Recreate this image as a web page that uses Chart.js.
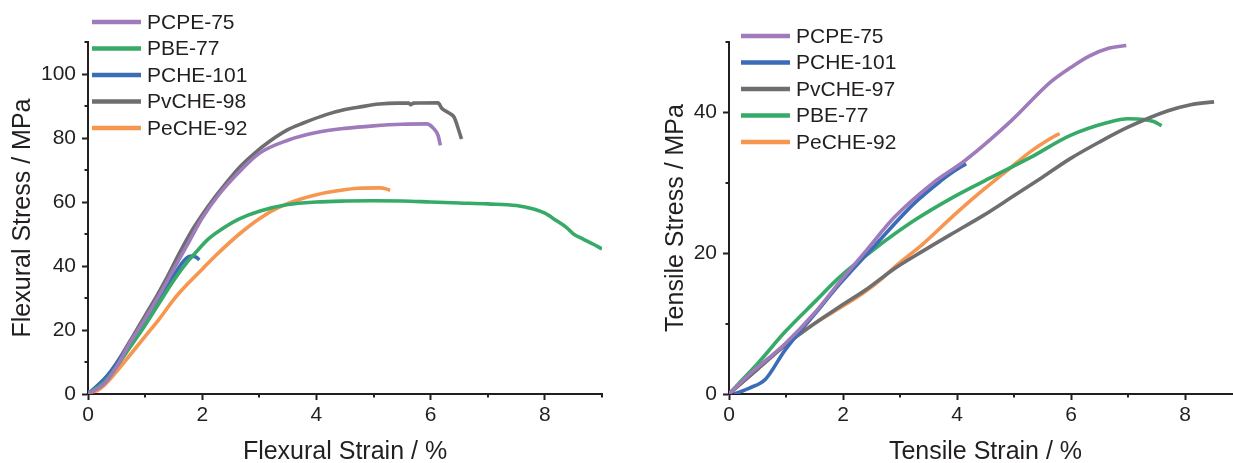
<!DOCTYPE html>
<html>
<head>
<meta charset="utf-8">
<script src="https://cdn.jsdelivr.net/npm/chart.js@4.4.1/dist/chart.umd.min.js"></script>
<style>
  html, body { margin: 0; padding: 0; background: #fff; }
  body { width: 1233px; height: 463px; overflow: hidden; position: relative; }
  canvas { position: absolute; top: 0; }
  #flexural { left: 0; }
  #tensile { left: 620px; }
</style>
</head>
<body>
<canvas id="flexural" width="620" height="480"></canvas>
<canvas id="tensile" width="660" height="480"></canvas>
<script>
// ---- flexural test: [strain %, stress MPa]
const flexPCPE75 = [[0,0],[0.3,3.5],[0.5,8.5],[0.75,16.5],[1.0,23.5],[1.25,31],[1.5,39],[1.75,47],[2.0,55],[2.3,62.5],[2.6,68.5],[3.0,75.2],[3.5,79.3],[4.0,81.7],[4.5,83],[5.0,83.8],[5.5,84.3],[5.93,84.4],[6.05,83],[6.13,80.8],[6.17,77.7]];
const flexPBE77 = [[0,0],[0.3,4],[0.5,8.5],[0.75,15],[1.0,21.5],[1.25,28.5],[1.5,35.5],[1.75,41.5],[1.9,44.5],[2.1,48.3],[2.3,51],[2.65,54.7],[3.0,57.1],[3.5,59.2],[4.0,60],[4.5,60.3],[5.0,60.4],[5.5,60.3],[6.0,60],[6.5,59.7],[7.0,59.4],[7.5,58.9],[7.8,57.8],[8.0,56.5],[8.2,54.2],[8.38,52],[8.5,50],[8.67,48.4],[8.85,46.8],[9.0,45.3]];
const flexPCHE101 = [[0,0],[0.3,5],[0.5,9.5],[0.75,16],[1.0,23],[1.25,30],[1.5,37],[1.65,41],[1.75,42.8],[1.83,43.1],[1.9,42.7],[1.95,41.9]];
const flexPvCHE98 = [[0,0],[0.2,2.5],[0.4,7],[0.6,12.5],[0.8,18.5],[1.0,24.5],[1.2,30.5],[1.4,37],[1.6,44],[1.8,50.5],[2.0,56],[2.2,61],[2.4,65.5],[2.65,70.8],[2.9,75],[3.2,79.2],[3.5,82.6],[3.76,84.6],[4.17,87.3],[4.5,88.9],[4.73,89.6],[5.1,90.6],[5.42,90.9],[5.62,90.9],[5.65,90.4],[5.7,90.9],[6.13,91],[6.19,89.4],[6.34,87.6],[6.41,86.5],[6.49,82.5],[6.54,79.7]];
const flexPeCHE92 = [[0,0.5],[0.15,1],[0.3,3],[0.5,7],[0.75,12.5],[1.0,18],[1.25,23.5],[1.5,29.5],[1.75,34.5],[2.0,39],[2.25,43.5],[2.65,50],[3.0,54.8],[3.34,58.3],[3.7,60.8],[4.0,62.3],[4.4,63.6],[4.73,64.3],[5.11,64.4],[5.22,64.1],[5.29,63.6]];

// ---- tensile test: [strain %, stress MPa]
const tensPCPE75 = [[0,0],[0.36,2.8],[0.98,7.1],[1.5,11.5],[1.94,15.9],[2.4,20.3],[2.9,25.1],[3.58,30],[4.13,33.1],[4.95,38.8],[5.64,44.3],[6.0,46.4],[6.32,48],[6.66,49.1],[6.97,49.5]];
const tensPCHE101 = [[0.09,0],[0.36,0.85],[0.64,2.1],[0.98,6.2],[1.53,11.6],[1.94,15.6],[2.55,21],[3.24,27],[3.72,30.3],[3.92,31.5],[4.16,32.7]];
const tensPvCHE97 = [[0,0],[0.5,3.5],[1.0,7],[1.5,10],[1.94,12.4],[2.4,14.8],[2.9,17.8],[3.4,20.3],[3.92,22.8],[4.45,25.3],[4.95,27.9],[5.5,30.8],[5.98,33.4],[6.5,35.8],[7.0,37.9],[7.69,40.2],[8.1,41.1],[8.51,41.5]];
const tensPBE77 = [[0,0],[0.16,1.4],[0.5,4.3],[0.98,8.8],[1.53,13.3],[1.94,16.6],[2.55,20.6],[3.24,24.6],[3.92,27.9],[4.61,30.8],[5.29,33.6],[5.98,36.7],[6.66,38.6],[7.0,39.1],[7.28,39],[7.45,38.7],[7.59,38.1]];
const tensPeCHE92 = [[0,0],[0.5,3.6],[1.0,7.1],[1.5,10],[2.0,12.5],[2.35,14.3],[2.7,16.5],[2.9,18],[3.4,21.3],[3.92,25.2],[4.4,28.6],[4.95,32.2],[5.3,34.5],[5.64,36.3],[5.8,37]];

// tick values
const flexMinorX = [1, 3, 5, 7, 9];
const flexMinorY = [10, 30, 50, 70, 90, 110];
const tensMinorX = [1, 3, 5, 7, 9];
const tensMinorY = [10, 30, 50];

const INK = '#231f20';
const FONT = '"Liberation Sans", Arial, sans-serif';
const colors = {
  purple: '#9f7bbb',
  green: '#36aa67',
  blue: '#3b6cb7',
  gray: '#6e6e71',
  orange: '#f6964f'
};

Chart.defaults.font.family = FONT;
Chart.defaults.color = INK;

function series(label, pts, color) {
  return {
    label: label,
    data: pts.map(p => ({ x: p[0], y: p[1] })),
    borderColor: color,
    backgroundColor: color,
    borderWidth: 3.6,
    pointRadius: 0,
    cubicInterpolationMode: 'monotone',
    fill: false
  };
}

const minorTicks = {
  id: 'minorTicks',
  afterDraw(chart, args, opts) {
    const ctx = chart.ctx;
    const xs = chart.scales.x, ys = chart.scales.y;
    ctx.save();
    ctx.strokeStyle = INK;
    ctx.lineWidth = 2;
    opts.x.forEach(v => {
      const px = Math.round(xs.getPixelForValue(v));
      ctx.beginPath(); ctx.moveTo(px, xs.top); ctx.lineTo(px, xs.top + 3.5); ctx.stroke();
    });
    opts.y.forEach(v => {
      const py = Math.round(ys.getPixelForValue(v));
      ctx.beginPath(); ctx.moveTo(ys.right, py); ctx.lineTo(ys.right - 3.5, py); ctx.stroke();
    });
    ctx.restore();
  }
};

const lineLegend = {
  id: 'lineLegend',
  afterDraw(chart, args, opts) {
    const ctx = chart.ctx;
    ctx.save();
    ctx.font = '21px ' + FONT;
    ctx.textBaseline = 'middle';
    chart.data.datasets.forEach((ds, i) => {
      const y = opts.top + i * opts.gap;
      ctx.strokeStyle = ds.borderColor;
      ctx.lineWidth = 4.5;
      ctx.beginPath(); ctx.moveTo(opts.left, y); ctx.lineTo(opts.left + 49, y); ctx.stroke();
      ctx.fillStyle = INK;
      ctx.fillText(ds.label, opts.left + 55, y + 1);
    });
    ctx.restore();
  }
};

function makeChart(id, cfg) {
  return new Chart(document.getElementById(id), {
    type: 'line',
    data: { datasets: cfg.datasets },
    plugins: [minorTicks, lineLegend],
    options: {
      responsive: false,
      animation: false,
      layout: { padding: { left: 0, top: 42, right: cfg.padRight, bottom: 0 } },
      plugins: {
        legend: { display: false },
        tooltip: { enabled: false },
        minorTicks: { x: cfg.minorX, y: cfg.minorY },
        lineLegend: cfg.legend
      },
      scales: {
        x: {
          type: 'linear',
          min: 0, max: 9,
          afterFit: s => { s.height = 86; },
          border: { display: true, color: INK, width: 2 },
          grid: { drawOnChartArea: false, drawTicks: true, tickLength: 6, tickWidth: 2, tickColor: INK },
          ticks: { stepSize: 2, includeBounds: false, padding: 3, font: { size: 21 }, color: INK, maxRotation: 0 },
          title: { display: true, text: cfg.xTitle, color: INK, font: { size: 25 }, padding: { top: 0, bottom: 13 } }
        },
        y: {
          min: 0, max: cfg.yMax,
          afterFit: s => { s.width = cfg.yWidth; },
          border: { display: true, color: INK, width: 2 },
          grid: { drawOnChartArea: false, drawTicks: true, tickLength: 6, tickWidth: 2, tickColor: INK },
          ticks: { stepSize: 20, includeBounds: false, padding: 6, font: { size: 21 }, color: INK },
          title: { display: true, text: cfg.yTitle, color: INK, font: { size: 25 }, padding: { top: cfg.yTitlePad, bottom: 0 } }
        }
      }
    }
  });
}

makeChart('flexural', {
  datasets: [
    series('PCPE-75', flexPCPE75, colors.purple),
    series('PBE-77', flexPBE77, colors.green),
    series('PCHE-101', flexPCHE101, colors.blue),
    series('PvCHE-98', flexPvCHE98, colors.gray),
    series('PeCHE-92', flexPeCHE92, colors.orange)
  ],
  yMax: 110,
  yWidth: 88,
  padRight: 18,
  yTitlePad: 8,
  xTitle: 'Flexural Strain / %',
  yTitle: 'Flexural Stress / MPa',
  minorX: flexMinorX,
  minorY: flexMinorY,
  legend: { left: 92, top: 22, gap: 26.5 }
});

makeChart('tensile', {
  datasets: [
    series('PCPE-75', tensPCPE75, colors.purple),
    series('PCHE-101', tensPCHE101, colors.blue),
    series('PvCHE-97', tensPvCHE97, colors.gray),
    series('PBE-77', tensPBE77, colors.green),
    series('PeCHE-92', tensPeCHE92, colors.orange)
  ],
  yMax: 50,
  yWidth: 109,
  padRight: 38,
  yTitlePad: 41,
  xTitle: 'Tensile Strain / %',
  yTitle: 'Tensile Stress / MPa',
  minorX: tensMinorX,
  minorY: tensMinorY,
  legend: { left: 121, top: 36, gap: 26.5 }
});
</script>
</body>
</html>
